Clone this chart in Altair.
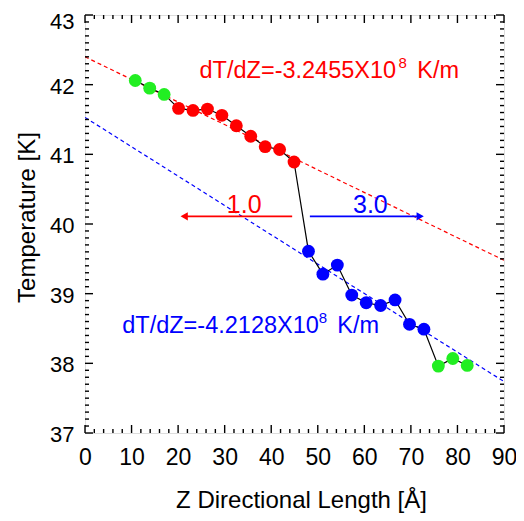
import altair as alt
import pandas as pd
import numpy as np

# ---- data ----
z_len = [10.8, 13.9, 17.0, 20.1, 23.2, 26.3, 29.4, 32.5, 35.6, 38.7, 41.8, 44.9,
         48.0, 51.1, 54.2, 57.3, 60.4, 63.5, 66.6, 69.7, 72.8, 75.9, 79.0, 82.1]
temperature = [42.06, 41.95, 41.86, 41.66, 41.63, 41.65, 41.56, 41.41, 41.26, 41.11, 41.07, 40.89,
               39.61, 39.28, 39.41, 38.98, 38.87, 38.83, 38.91, 38.56, 38.49, 37.96, 38.07, 37.97]
region = ["green"] * 3 + ["red"] * 9 + ["blue"] * 9 + ["green"] * 3
region_colors = {"green": "#22ee22", "red": "#ff0000", "blue": "#0000ff"}

fit_names = ["red", "blue"]
fit_intercepts = [42.40, 41.53]
fit_slopes = [-0.032455, -0.042128]  # K per Angstrom
fit_x = [0, 90]

arrow_colors = ["red", "blue"]
arrow_start = [44.5, 48.3]
arrow_end = [21.3, 72.0]
arrow_head = [21.3, 72.0]
arrow_shape = ["triangle-left", "triangle-right"]
arrow_y = [40.11, 40.11]
arrow_labels = ["1.0", "3.0"]
arrow_label_x = [34.2, 61.3]
arrow_label_y = [40.165, 40.165]

ann_main = ["dT/dZ=-3.2455X10", "dT/dZ=-4.2128X10"]
ann_main_x = [24.6, 8.0]
ann_main_y = [42.095, 38.431]
ann_sup_x = [67.35, 50.23]
ann_sup_y = [42.235, 38.575]
ann_unit_x = [71.36, 54.18]
ann_colors = ["red", "blue"]

x_major = [0, 10, 20, 30, 40, 50, 60, 70, 80, 90]
y_major = [37, 38, 39, 40, 41, 42, 43]
x_minor = [v for v in np.arange(0, 90.01, 2).round(2).tolist() if v % 10 != 0]
y_minor = [v for v in np.arange(37, 43.001, 0.1).round(2).tolist() if abs(v - round(v)) > 1e-6]

FONT = "Liberation Sans"
W, H = 419, 418

xs = alt.Scale(domain=[0, 90], nice=False, zero=False)
ys = alt.Scale(domain=[37, 43], nice=False, zero=False)

pts = pd.DataFrame({"z": z_len, "t": temperature,
                    "col": [region_colors[g] for g in region], "o": list(range(len(z_len)))})

fit_rows = []
for n, b, m in zip(fit_names, fit_intercepts, fit_slopes):
    for xv in fit_x:
        fit_rows.append({"name": n, "z": xv, "t": b + m * xv})
fits = pd.DataFrame(fit_rows)

arrows = pd.DataFrame({"c": arrow_colors, "x1": arrow_start, "x2": arrow_end, "y": arrow_y,
                       "h": arrow_head, "shape": arrow_shape,
                       "lab": arrow_labels, "lx": arrow_label_x, "ly": arrow_label_y})
ann = pd.DataFrame({"c": ann_colors, "txt": ann_main, "x": ann_main_x, "y": ann_main_y,
                    "sx": ann_sup_x, "sy": ann_sup_y, "ux": ann_unit_x})

top_label_test = "datum.value >= 42.99"

x_axis = alt.Axis(values=x_major, ticks=False, domain=False, grid=False,
                  labelFont=FONT, labelFontSize=23, labelColor="black", labelPadding=13,
                  labelFlush=False, labelOverlap=False,
                  title="Z Directional Length [Å]", titleFont=FONT, titleFontSize=24,
                  titleFontWeight="normal", titleColor="black",
                  titleX=216, titleY=74, titleBaseline="alphabetic", titleAlign="center")
y_axis = alt.Axis(values=y_major, ticks=False, domain=False, grid=False,
                  labelFont=FONT, labelFontSize=22, labelColor="black", labelPadding=11,
                  labelFlush=False, labelOverlap=False,
                  labelBaseline={"condition": {"test": top_label_test, "value": "top"}, "value": "middle"},
                  labelOffset={"condition": {"test": top_label_test, "value": -4}, "value": 1.5},
                  title="Temperature [K]", titleFont=FONT, titleFontSize=24,
                  titleFontWeight="normal", titleColor="black",
                  titleX=-58, titleY=202, titleAngle=-90, titleBaseline="middle",
                  titleAlign="center")


def X(field):
    return alt.X(field, scale=xs, axis=x_axis)


def Y(field):
    return alt.Y(field, scale=ys, axis=y_axis)


fit_layer = alt.Chart(fits).mark_line(strokeDash=[4, 3], strokeWidth=1.2, clip=True).encode(
    x=X("z:Q"), y=Y("t:Q"),
    color=alt.Color("name:N", scale=None),
    detail="name:N",
)

line_layer = alt.Chart(pts).mark_line(color="black", strokeWidth=1.2).encode(
    x=X("z:Q"), y=Y("t:Q"), order="o:Q",
)

pt_layer = alt.Chart(pts).mark_point(filled=True, opacity=1, size=165, shape="circle").encode(
    x=X("z:Q"), y=Y("t:Q"),
    color=alt.Color("col:N", scale=None),
)

arrow_line = alt.Chart(arrows).mark_rule(strokeWidth=1.6).encode(
    x=X("x1:Q"), x2="x2:Q", y=Y("y:Q"),
    color=alt.Color("c:N", scale=None),
)
arrow_head_layer = alt.Chart(arrows).mark_point(filled=True, opacity=1, size=70).encode(
    x=X("h:Q"), y=Y("y:Q"),
    shape=alt.Shape("shape:N", scale=None),
    color=alt.Color("c:N", scale=None),
)
arrow_text = alt.Chart(arrows).mark_text(font=FONT, fontSize=25, align="center", baseline="alphabetic").encode(
    x=X("lx:Q"), y=Y("ly:Q"), text="lab:N",
    color=alt.Color("c:N", scale=None),
)

ann_main_layer = alt.Chart(ann).mark_text(font=FONT, fontSize=23.5, align="left", baseline="alphabetic").encode(
    x=X("x:Q"), y=Y("y:Q"), text="txt:N",
    color=alt.Color("c:N", scale=None),
)
ann_sup_layer = alt.Chart(ann).mark_text(font=FONT, fontSize=15, align="left", baseline="alphabetic").encode(
    x=X("sx:Q"), y=Y("sy:Q"), text=alt.value("8"),
    color=alt.Color("c:N", scale=None),
)
ann_unit_layer = alt.Chart(ann).mark_text(font=FONT, fontSize=23.5, align="left", baseline="alphabetic").encode(
    x=X("ux:Q"), y=Y("y:Q"), text=alt.value("K/m"),
    color=alt.Color("c:N", scale=None),
)


def xticks(vals, y0, y1):
    return alt.Chart(pd.DataFrame({"v": vals})).mark_rule(color="black", strokeWidth=1.4).encode(
        x=X("v:Q"), y=alt.value(y0), y2=alt.value(y1))


def yticks(vals, x0, x1):
    return alt.Chart(pd.DataFrame({"v": vals})).mark_rule(color="black", strokeWidth=1.4).encode(
        y=Y("v:Q"), x=alt.value(x0), x2=alt.value(x1))


tick_layers = [
    xticks(x_major, H, H - 8), xticks(x_minor, H, H - 4),
    xticks(x_major, 0, 8), xticks(x_minor, 0, 4),
    yticks(y_major, 0, 8), yticks(y_minor, 0, 4),
    yticks(y_major, W, W - 8), yticks(y_minor, W, W - 4),
]

chart = alt.layer(
    fit_layer, line_layer, pt_layer, arrow_line, arrow_head_layer, arrow_text,
    ann_main_layer, ann_sup_layer, ann_unit_layer, *tick_layers
).properties(
    width=W, height=H,
    autosize=alt.AutoSizeParams(type="none"),
    padding={"left": 77, "top": 7, "right": 12, "bottom": 80},
).configure_view(stroke="black", strokeWidth=2).configure(background="white")

chart.save("out.html", embed_options={"renderer": "svg", "actions": False})
